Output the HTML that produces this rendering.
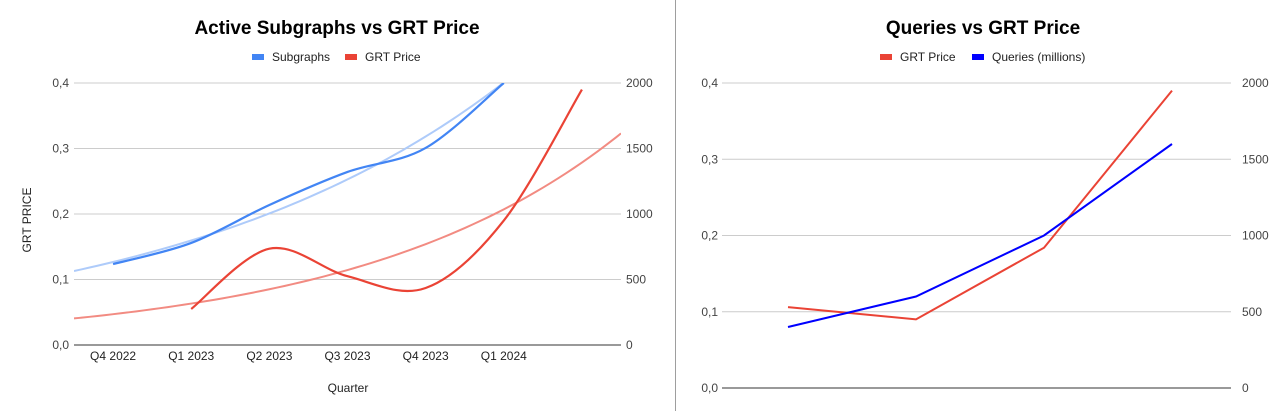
<!DOCTYPE html>
<html><head><meta charset="utf-8"><style>
html,body{margin:0;padding:0;background:#fff;}
svg{display:block;font-family:"Liberation Sans",Arial,sans-serif;}
</style></head><body>
<svg id="c" width="1288" height="411" viewBox="0 0 1288 411">
<line x1="675.5" y1="0" x2="675.5" y2="411" stroke="#9e9e9e" stroke-width="1"/>
<text x="337" y="34" text-anchor="middle" font-size="19" font-weight="bold" fill="#000">Active Subgraphs vs GRT Price</text>
<text x="983" y="34" text-anchor="middle" font-size="19" font-weight="bold" fill="#000">Queries vs GRT Price</text>
<g>
<rect x="252" y="54" width="12" height="6" fill="#4285f4"/>
<text x="272" y="61" font-size="12" fill="#222">Subgraphs</text>
<rect x="345" y="54" width="12" height="6" fill="#ea4335"/>
<text x="365" y="61" font-size="12" fill="#222">GRT Price</text>
</g>
<g>
<rect x="880" y="54" width="12" height="6" fill="#ea4335"/>
<text x="900" y="61" font-size="12" fill="#222">GRT Price</text>
<rect x="972" y="54" width="12" height="6" fill="#0000ff"/>
<text x="992" y="61" font-size="12" fill="#222">Queries (millions)</text>
</g>
<text transform="translate(31,220) rotate(-90)" text-anchor="middle" font-size="12" fill="#222">GRT PRICE</text>
<text x="348" y="392" text-anchor="middle" font-size="12" fill="#222">Quarter</text>
<g id="L"></g><g id="R"></g>
</svg>
<script>
const leftCats=["Q4 2022","Q1 2023","Q2 2023","Q3 2023","Q4 2023","Q1 2024",""];
const subgraphs=[618,779,1069,1321,1504,2000,null];
const grtLeft=[null,0.055,0.147,0.105,0.087,0.19,0.39];
const leftTicks=["0,0","0,1","0,2","0,3","0,4"];
const rightTicksVals=["0","500","1000","1500","2000"];
const rightCats=["","","",""];
const grtRight=[0.106,0.090,0.184,0.39];
const queries=[400,600,1000,1600];

const NS="http://www.w3.org/2000/svg";
function mk(p,t,a){const e=document.createElementNS(NS,t);for(const k in a)e.setAttribute(k,a[k]);p.appendChild(e);return e;}
function smooth(pts){if(pts.length<2)return"";let d="M"+pts[0][0]+","+pts[0][1];
 for(let i=0;i<pts.length-1;i++){const p0=pts[i-1]||pts[i],p1=pts[i],p2=pts[i+1],p3=pts[i+2]||p2;const t=0.5/3*2;
 const c1=[p1[0]+(p2[0]-p0[0])*t/2,p1[1]+(p2[1]-p0[1])*t/2],c2=[p2[0]-(p3[0]-p1[0])*t/2,p2[1]-(p3[1]-p1[1])*t/2];
 d+=" C"+c1[0]+","+c1[1]+" "+c2[0]+","+c2[1]+" "+p2[0]+","+p2[1];}return d;}
function expfit(vals){let n=0,sx=0,sy=0,sxx=0,sxy=0;vals.forEach((v,i)=>{if(v==null)return;const y=Math.log(v);n++;sx+=i;sy+=y;sxx+=i*i;sxy+=i*y;});
 const b=(n*sxy-sx*sy)/(n*sxx-sx*sx),a=(sy-b*sx)/n;return i=>Math.exp(a+b*i);}

// Left chart
(function(){const g=document.getElementById('L');const x0=74,x1=621,yT=83,yB=345;const bw=(x1-x0)/leftCats.length;
 const xs=i=>x0+bw*(i+0.5),yl=v=>yB-(v/0.4)*(yB-yT),yr=v=>yB-(v/2000)*(yB-yT);
 leftTicks.forEach((t,i)=>{const y=yB-i*(yB-yT)/4;
  const ln=mk(g,'line',{x1:x0,x2:x1,y1:y,y2:y,stroke:i==0?'#333':'#ccc','stroke-width':1});
  
  const tl=mk(g,'text',{x:69,y:y+4,'text-anchor':'end','font-size':12,fill:'#444'});tl.textContent=t;
  
  const tr=mk(g,'text',{x:626,y:y+4,'font-size':12,fill:'#444'});tr.textContent=rightTicksVals[i];
  });
 leftCats.forEach((c,i)=>{const t=mk(g,'text',{x:xs(i),y:360,'text-anchor':'middle','font-size':12,fill:'#222'});t.textContent=c;
  });
 const clip=mk(g,'clipPath',{id:'lc'});mk(clip,'rect',{x:x0,y:yT,width:x1-x0,height:yB-yT});
 const trendPts=(f,sc)=>{const p=[];for(let k=-0.5;k<=leftCats.length-0.5+1e-6;k+=0.1)p.push([x0+bw*(k+0.5),sc(f(k))]);return p;};
 const fs=expfit(subgraphs),fg=expfit(grtLeft);
 let e=mk(g,'path',{d:smooth(trendPts(fs,yr)),fill:'none',stroke:'#aecbfa','stroke-width':2,'clip-path':'url(#lc)'});
 
 e=mk(g,'path',{d:smooth(trendPts(fg,yl)),fill:'none',stroke:'#f28b82','stroke-width':2,'clip-path':'url(#lc)'});
 
 const sp=[];subgraphs.forEach((v,i)=>{if(v!=null)sp.push([xs(i),yr(v)]);});
 e=mk(g,'path',{d:smooth(sp),fill:'none',stroke:'#4285f4','stroke-width':2.2,'clip-path':'url(#lc)'});
 
 const gp=[];grtLeft.forEach((v,i)=>{if(v!=null)gp.push([xs(i),yl(v)]);});
 e=mk(g,'path',{d:smooth(gp),fill:'none',stroke:'#ea4335','stroke-width':2.2});
 
})();

// Right chart
(function(){const g=document.getElementById('R');const x0=724,x1=1236,yT=83,yB=388;const bw=(x1-x0)/rightCats.length;
 const xs=i=>x0+bw*(i+0.5),yl=v=>yB-(v/0.4)*(yB-yT),yr=v=>yB-(v/2000)*(yB-yT);
 leftTicks.forEach((t,i)=>{const y=yB-i*(yB-yT)/4;
  const ln=mk(g,'line',{x1:722,x2:1231,y1:y,y2:y,stroke:i==0?'#333':'#ccc','stroke-width':1});
  
  const tl=mk(g,'text',{x:718,y:y+4,'text-anchor':'end','font-size':12,fill:'#444'});tl.textContent=t;
  
  const tr=mk(g,'text',{x:1242,y:y+4,'font-size':12,fill:'#444'});tr.textContent=rightTicksVals[i];
  });
 let e=mk(g,'polyline',{points:grtRight.map((v,i)=>xs(i)+","+yl(v)).join(" "),fill:'none',stroke:'#ea4335','stroke-width':2});
 
 e=mk(g,'polyline',{points:queries.map((v,i)=>xs(i)+","+yr(v)).join(" "),fill:'none',stroke:'#0000ff','stroke-width':2});
 
})();
</script>
</body></html>
